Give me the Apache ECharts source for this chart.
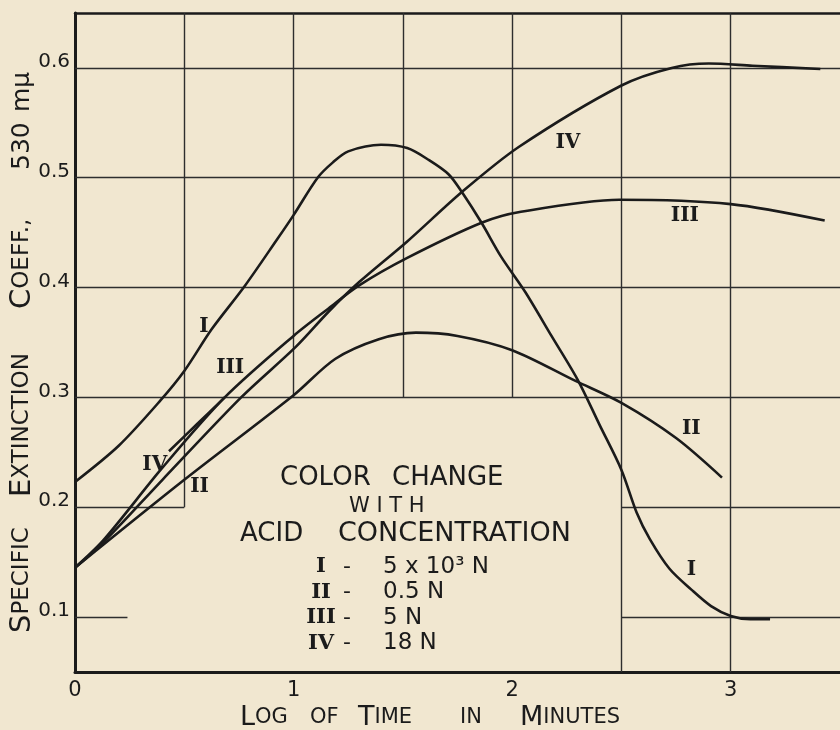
<!DOCTYPE html>
<html>
<head>
<meta charset="utf-8">
<script src="https://cdn.jsdelivr.net/npm/echarts@6/dist/echarts.min.js"></script>
<style>
  html, body { margin: 0; background: #f1e7d0; }
  #chart { width: 840px; height: 730px; }
</style>
</head>
<body>
<div id="chart"></div>
<script>
// tick labels
const xTickValues = [0, 1, 2, 3]
const yTickValues = [0.1, 0.2, 0.3, 0.4, 0.5, 0.6]

// curve I - 5 x 10^3 N
const curveIX = [0, 0.2, 0.39, 0.5, 0.625, 0.775, 0.925, 1.0, 1.11, 1.18, 1.25, 1.4, 1.52, 1.62, 1.71, 1.77, 1.86, 1.95, 2.06, 2.18, 2.3, 2.4, 2.5, 2.57, 2.63, 2.72, 2.82, 2.91, 3.0, 3.09, 3.18]
const curveIY = [0.223, 0.256, 0.297, 0.324, 0.362, 0.401, 0.444, 0.466, 0.5, 0.514, 0.524, 0.53, 0.527, 0.516, 0.503, 0.487, 0.459, 0.428, 0.396, 0.356, 0.316, 0.275, 0.234, 0.195, 0.171, 0.144, 0.125, 0.11, 0.101, 0.098, 0.098]
// curve II - 0.5 N
const curveIIX = [0, 0.5, 1.0, 1.19, 1.39, 1.56, 1.75, 2.0, 2.29, 2.5, 2.75, 2.96]
const curveIIY = [0.145, 0.225, 0.302, 0.335, 0.353, 0.359, 0.356, 0.343, 0.315, 0.295, 0.263, 0.227]
// curve III - 5 N, plus the short extra stroke drawn beside it
const curveIIIX = [0, 0.13, 0.4, 0.685, 1.0, 1.16, 1.3, 1.52, 1.86, 2.04, 2.49, 3.0, 3.43]
const curveIIIY = [0.145, 0.17, 0.236, 0.3, 0.356, 0.381, 0.402, 0.427, 0.459, 0.469, 0.48, 0.476, 0.461]
const strokeIIIX = [0.43, 0.56, 0.685]
const strokeIIIY = [0.251, 0.276, 0.3]
// curve IV - 18 N
const curveIVX = [0, 0.13, 0.4, 0.76, 1.01, 1.16, 1.3, 1.52, 1.77, 2.03, 2.5, 2.73, 2.9, 3.1, 3.41]
const curveIVY = [0.145, 0.168, 0.225, 0.3, 0.346, 0.378, 0.405, 0.442, 0.487, 0.528, 0.584, 0.6, 0.604, 0.602, 0.599]

// grid segments of the printed paper: [y, xFrom, xTo] and [x, yFrom, yTo]
const gridRows = [[0.6, 0, 3.5], [0.5, 0, 3.5], [0.4, 0, 3.5], [0.3, 0, 3.5], [0.2, 0, 0.5], [0.2, 2.5, 3.5], [0.1, 0, 0.24], [0.1, 2.5, 3.5]]
const gridCols = [[0.5, 0.2, 0.65], [1, 0.3, 0.65], [1.5, 0.3, 0.65], [2, 0.3, 0.65], [2.5, 0.05, 0.65], [3, 0.05, 0.65]]

// roman numerals written next to the curves
const curveLabels = [[0.59, 0.364, 'I'], [0.71, 0.327, 'III'], [0.365, 0.239, 'IV'], [0.57, 0.219, 'II'], [2.255, 0.532, 'IV'], [2.79, 0.465, 'III'], [2.82, 0.271, 'II'], [2.82, 0.143, 'I']]

// key in the lower middle
const keyNumerals = ['I', 'II', 'III', 'IV']
const keyValues = ['5 x 10³ N', '0.5 N', '5 N', '18 N']

const ink = '#1b1b1b'
const zip = (xs, ys) => xs.map((x, i) => [x, ys[i]])

const chart = echarts.init(document.getElementById('chart'))

const curveSeries = (name, xs, ys) => ({
  name,
  type: 'line',
  data: zip(xs, ys),
  smooth: 0.3,
  showSymbol: false,
  silent: true,
  lineStyle: { color: ink, width: 2.6 },
  z: 5
})

const gridLines = [
  ...gridRows.map(([y, a, b]) => [{ coord: [a, y] }, { coord: [b, y] }]),
  ...gridCols.map(([x, a, b]) => [{ coord: [x, a] }, { coord: [x, b] }])
]

const sans = 'DejaVu Sans'
const serif = 'DejaVu Serif'
const capsRich = (big, small) => ({
  b: { fontFamily: sans, fontSize: big, fill: ink },
  s: { fontFamily: sans, fontSize: small, fill: ink },
  n: { fontFamily: sans, fontSize: 25, fill: ink }
})
const plain = (x, y, text, size, align) => ({
  type: 'text', x, y,
  style: { text, font: `${size}px "${sans}"`, fill: ink, align: align || 'left', verticalAlign: 'middle' }
})

const graphics = [
  plain(280, 478, 'COLOR', 26),
  plain(392, 478, 'CHANGE', 26),
  plain(349, 507, 'W I T H', 21),
  plain(240, 534, 'ACID', 26),
  plain(338, 534, 'CONCENTRATION', 27)
]

// y axis title, one word at a time, reading upwards
const yTitleWords = [['{b|S}{s|PECIFIC}', 633], ['{b|E}{s|XTINCTION}', 497], ['{b|C}{s|OEFF.,}', 309], ['{n|530}', 170], ['{n|mμ}', 112]]
yTitleWords.forEach(([text, y]) => {
  graphics.push({
    type: 'text', x: 22, y, rotation: Math.PI / 2,
    style: { text, align: 'left', verticalAlign: 'middle', fill: ink, rich: capsRich(29, 23) }
  })
})
// x axis title
const xTitleWords = [['{b|L}{s|OG}', 240], ['{s|OF}', 310], ['{b|T}{s|IME}', 358], ['{s|IN}', 460], ['{b|M}{s|INUTES}', 520]]
xTitleWords.forEach(([text, x]) => {
  graphics.push({
    type: 'text', x, y: 718,
    style: { text, align: 'left', verticalAlign: 'middle', fill: ink, rich: capsRich(27, 21) }
  })
})

keyNumerals.forEach((n, i) => {
  const y = 567 + i * 25.5
  graphics.push({ type: 'text', x: 321, y, style: { text: n, font: `bold 21px "${serif}"`, fill: ink, align: 'center', verticalAlign: 'middle' } })
  graphics.push(plain(347, y, '-', 22, 'center'))
  graphics.push(plain(383, y, keyValues[i], 23))
})

const option = {
  backgroundColor: '#f1e7d0',
  animation: false,
  grid: { left: 75, right: -3, top: 13, bottom: 58 },
  xAxis: [
    {
      type: 'value', min: 0, max: 3.5,
      axisLine: { lineStyle: { color: ink, width: 3 } },
      axisTick: { show: false },
      splitLine: { show: false },
      axisLabel: { customValues: xTickValues, color: ink, fontFamily: sans, fontSize: 21, margin: 8 }
    },
    {
      type: 'value', min: 0, max: 3.5, position: 'top',
      axisLine: { show: true, lineStyle: { color: ink, width: 2.5 } },
      axisTick: { show: false }, axisLabel: { show: false }, splitLine: { show: false }
    }
  ],
  yAxis: {
    type: 'value', min: 0.05, max: 0.65,
    axisLine: { show: true, lineStyle: { color: ink, width: 3 } },
    axisTick: { show: false },
    splitLine: { show: false },
    axisLabel: {
      customValues: yTickValues, color: ink, fontFamily: sans, fontSize: 20, margin: 5,
      verticalAlign: 'bottom', lineHeight: 12,
      formatter: v => v.toFixed(1)
    }
  },
  graphic: graphics,
  series: [
    {
      type: 'line', data: [], silent: true,
      markLine: {
        silent: true, symbol: 'none', animation: false,
        label: { show: false },
        lineStyle: { color: '#2e2e2e', width: 1.4, type: 'solid' },
        data: gridLines
      }
    },
    curveSeries('I', curveIX, curveIY),
    curveSeries('II', curveIIX, curveIIY),
    curveSeries('III', curveIIIX, curveIIIY),
    curveSeries('III stroke', strokeIIIX, strokeIIIY),
    curveSeries('IV', curveIVX, curveIVY),
    {
      type: 'scatter', symbolSize: 0, silent: true, z: 6,
      itemStyle: { opacity: 1 },
      data: curveLabels,
      label: {
        show: true, position: 'inside', color: ink, opacity: 1,
        fontFamily: serif, fontWeight: 'bold', fontSize: 20,
        formatter: p => p.data[2]
      }
    }
  ]
}

chart.setOption(option)
window.addEventListener('resize', () => chart.resize())
</script>
</body>
</html>
